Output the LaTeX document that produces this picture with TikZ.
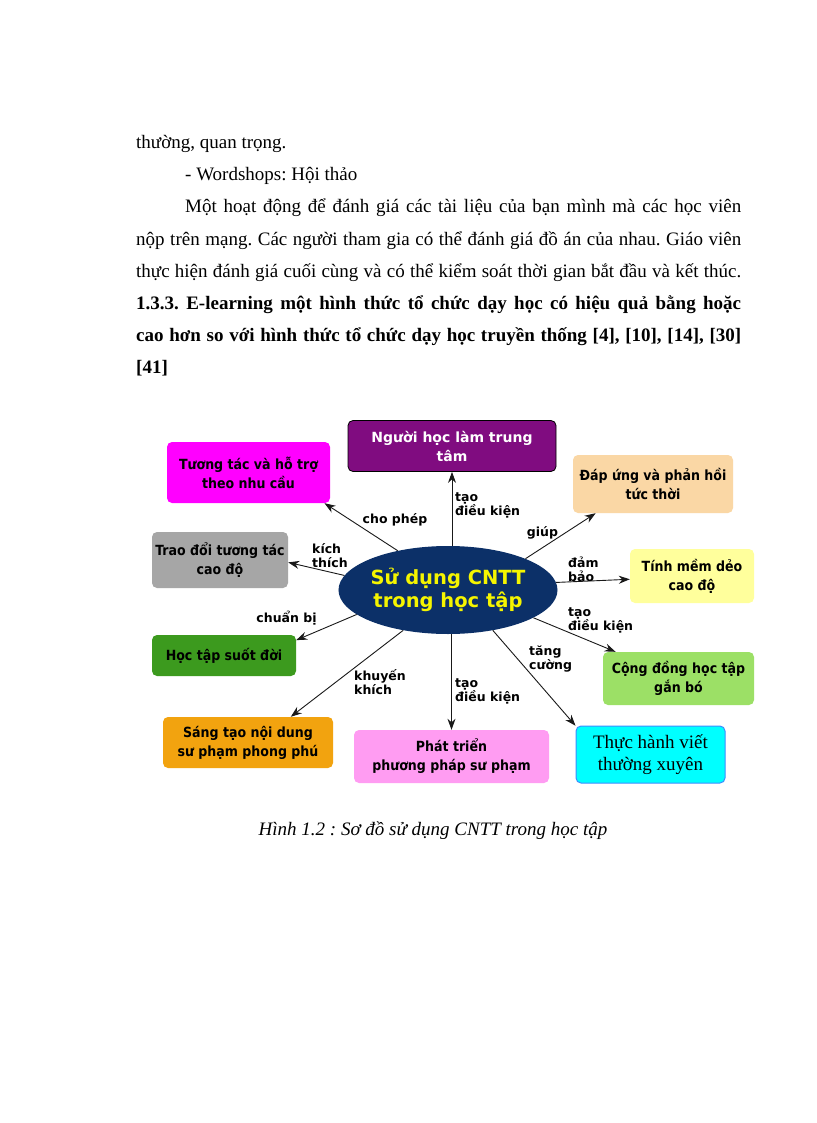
\documentclass[tikz,border=0pt]{standalone}
\usepackage{fontspec}
\setmainfont{Liberation Serif}
\newfontfamily\dejavu{DejaVu Sans}
\newfontfamily\dejavucond{DejaVu Sans Condensed}
\usetikzlibrary{shapes.geometric,arrows.meta}
\definecolor{cpurple}{HTML}{800C80}
\definecolor{cmagenta}{HTML}{FF00FF}
\definecolor{cgray}{HTML}{A6A6A6}
\definecolor{cpeach}{HTML}{FAD7A5}
\definecolor{cyellow}{HTML}{FFFF9C}
\definecolor{cgreen}{HTML}{3C9A1E}
\definecolor{corange}{HTML}{F2A30F}
\definecolor{cpink}{HTML}{FF9CF2}
\definecolor{clgreen}{HTML}{9CE066}
\definecolor{ccyan}{HTML}{00FFFF}
\definecolor{cblue}{HTML}{3C8CFF}
\definecolor{cnavy}{HTML}{0C3068}
\definecolor{cyel}{HTML}{F5F500}
\newcommand\jline[1]{\hbox to 605pt{#1}}
\newcommand\jlinei[1]{\hbox to 556pt{#1}}
\frenchspacing
\begin{document}
\begin{tikzpicture}[x=1pt,y=-1pt,
  body/.style={anchor=base west, inner sep=0pt, font=\fontsize{19}{32}\selectfont},
  box/.style={rounded corners=5pt, align=center, inner sep=0pt,
    font=\dejavucond\bfseries\fontsize{14}{19}\selectfont},
  lbl/.style={inner sep=0pt, align=left,
    font=\dejavu\bfseries\fontsize{12.5}{14}\selectfont},
  arr/.style={-{Stealth[length=11pt,width=8pt]}, line width=0.9pt, draw=black!90}]
\useasboundingbox (0,0) rectangle (816,1123);
\fill[white] (0,0) rectangle (816,1123);
% body text
\node[body] (t1) at (136,149) {thường, quan trọng.};
\node[body] (t2) at (185,181) {- Wordshops: Hội thảo};
\node[body] (t3) at (185,213) {\jlinei{Một hoạt động để đánh giá các tài liệu của bạn mình mà  các học viên}};
\node[body] (t4) at (136,245) {\jline{nộp trên mạng. Các người tham gia có thể đánh giá đồ án của nhau. Giáo viên}};
\node[body] (t5) at (136,277) {\jline{thực hiện đánh giá cuối cùng và có thể kiểm soát thời gian bắt đầu và kết thúc.}};
\node[body,font=\fontsize{19}{32}\selectfont\bfseries] (t6) at (136,309) {\jline{1.3.3. E-learning một hình thức tổ chức dạy học có hiệu quả bằng hoặc}};
\node[body,font=\fontsize{19}{32}\selectfont\bfseries] (t7) at (136,341) {\jline{cao hơn so với hình thức tổ chức dạy học truyền thống [4], [10], [14], [30]}};
\node[body,font=\fontsize{19}{32}\selectfont\bfseries] (t8) at (136,373) {[41]};
% centre
\node[ellipse, fill=cnavy, minimum width=204pt, minimum height=88pt, inner sep=0pt,
  align=center, text=cyel, font=\dejavu\bfseries\fontsize{19.5}{23}\selectfont] (E) at (448,590) {Sử dụng CNTT\\trong học tập};
% boxes
\node[box, fill=cpurple, draw=black, line width=0.8pt, text=white, font=\dejavu\bfseries\fontsize{14}{19}\selectfont,
  minimum width=208pt, minimum height=51pt] (B1) at (452,446) {Người học làm trung\\tâm};
\node[box, fill=cmagenta, minimum width=163pt, minimum height=61pt] (B2) at (248.5,472.5) {Tương tác và hỗ trợ\\theo nhu cầu};
\node[box, fill=cgray, minimum width=136pt, minimum height=56pt] (B3) at (220,560) {Trao đổi tương tác\\cao độ};
\node[box, fill=cpeach, minimum width=160pt, minimum height=58pt] (B4) at (653,484) {Đáp ứng và phản hồi\\tức thời};
\node[box, fill=cyellow, minimum width=124pt, minimum height=54pt] (B5) at (692,576) {Tính mềm dẻo\\cao độ};
\node[box, fill=cgreen, minimum width=144pt, minimum height=41pt] (B6) at (224,655.5) {Học tập suốt đời};
\node[box, fill=corange, minimum width=170pt, minimum height=51pt] (B7) at (248,742.5) {Sáng tạo nội dung\\sư phạm phong phú};
\node[box, fill=cpink, minimum width=195pt, minimum height=53pt] (B8) at (451.5,756.5) {Phát triển\\phương pháp sư phạm};
\node[box, fill=clgreen, minimum width=151pt, minimum height=53pt] (B9) at (678.5,678.5) {Cộng đồng học tập\\gắn bó};
\node[box, fill=ccyan, draw=cblue, line width=1pt, font=\fontsize{19}{22}\selectfont,
  minimum width=149pt, minimum height=57pt] (B10) at (650.5,754.5) {Thực hành viết\\thường xuyên};
% connectors
\draw[arr] (B1.south |- E.north) -- (B1.south);
\draw[arr] (E.142) -- (B2.-22);
\draw[arr] (E.172) -- (B3.-2);
\draw[arr] (E.22) -- (B4.-153);
\draw[arr] (E.4) -- (B5.183);
\draw[arr] (E.-18) -- (B9.157);
\draw[arr] (E.-42) -- (B10.159);
\draw[arr] (B8.north |- E.south) -- (B8.north);
\draw[arr] (E.-138) -- (B7.31);
\draw[arr] (E.195) -- (B6.12);
% labels
\node[lbl, anchor=west] (l1) at (455,505) {tạo\\điều kiện};
\node[lbl] (l2) at (395,520) {cho phép};
\node[lbl, anchor=west] (l3) at (312,555.5) {kích\\thích};
\node[lbl] (l4) at (542.5,533) {giúp};
\node[lbl, anchor=west] (l5) at (568,569) {đảm\\bảo};
\node[lbl, anchor=west] (l6) at (568,620) {tạo\\điều kiện};
\node[lbl, anchor=west] (l7) at (529,659) {tăng\\cường};
\node[lbl, anchor=west] (l8) at (455,691) {tạo\\điều kiện};
\node[lbl, anchor=west] (l9) at (354,682) {khuyến\\khích};
\node[lbl] (l10) at (286.5,618) {chuẩn bị};
% caption
\node[anchor=base, inner sep=0pt, font=\fontsize{19}{22}\selectfont\itshape] (cap) at (433,835) {Hình 1.2 : Sơ đồ sử dụng CNTT trong học tập};
\end{tikzpicture}
\end{document}
